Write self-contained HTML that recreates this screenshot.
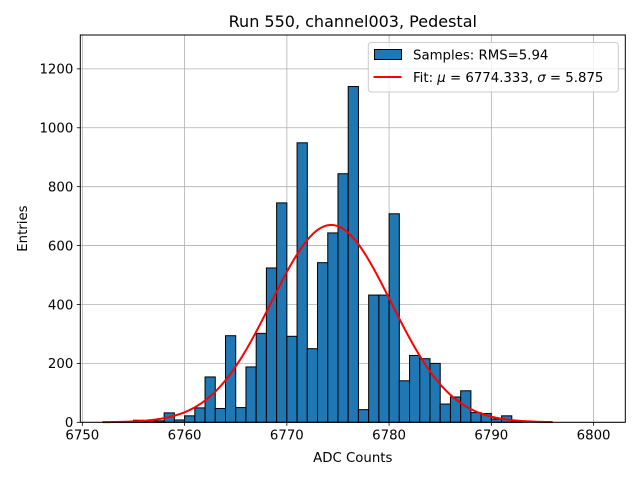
<!DOCTYPE html>
<html><head><meta charset="utf-8"><style>
body{margin:0;background:#fff}
svg text{font-family:"DejaVu Sans","Liberation Sans",sans-serif;fill:#000}
</style></head><body>
<svg id="chart" width="640" height="480" xmlns="http://www.w3.org/2000/svg">
<rect x="0" y="0" width="640" height="480" fill="#fff"/>
<g id="grid"></g><g id="bars"></g><g id="fit"></g><g id="axes"></g>
</svg>
<script>
const binStarts=[6752,6753,6754,6755,6756,6757,6758,6759,6760,6761,6762,6763,6764,6765,6766,6767,6768,6769,6770,6771,6772,6773,6774,6775,6776,6777,6778,6779,6780,6781,6782,6783,6784,6785,6786,6787,6788,6789,6790,6791,6792];
const counts=[1,1,2,7,2,5,32,8,22,49,154,47,294,50,188,302,524,745,292,949,250,542,643,844,1140,43,432,432,708,141,227,216,200,62,86,107,33,30,11,22,3];
const xTicks=[6750,6760,6770,6780,6790,6800];
const yTicks=[0,200,400,600,800,1000,1200];
const fitMu=6774.333, fitSigma=5.875, fitAmp=670, fitRange=[6752,6796];
const NS="http://www.w3.org/2000/svg";
const L=80.3,R=625.3,T=35,B=422.3,xmin=6749.8,xmax=6803.1,ymin=0,ymax=1315;
const sx=v=>L+(v-xmin)/(xmax-xmin)*(R-L);
const sy=v=>B-(v-ymin)/(ymax-ymin)*(B-T);
function mk(tag,attrs,parent){const e=document.createElementNS(NS,tag);for(const k in attrs)e.setAttribute(k,attrs[k]);parent.appendChild(e);return e;}
const grid=document.getElementById('grid'),bars=document.getElementById('bars'),fit=document.getElementById('fit'),axes=document.getElementById('axes');
xTicks.forEach(t=>{const l=mk('line',{x1:sx(t),x2:sx(t),y1:T,y2:B,stroke:'#b0b0b0','stroke-width':0.8},grid);

});
yTicks.forEach(t=>{const l=mk('line',{x1:L,x2:R,y1:sy(t),y2:sy(t),stroke:'#b0b0b0','stroke-width':0.8},grid);

});
binStarts.forEach((b,i)=>{const x0=sx(b),x1=sx(b+1),y=sy(counts[i]);
const r=mk('rect',{x:x0,y:y,width:x1-x0,height:sy(0)-y,fill:'#1f77b4',stroke:'#000','stroke-width':1},bars);

});
let d='';for(let i=0;i<=300;i++){const v=fitRange[0]+(fitRange[1]-fitRange[0])*i/300;const c=fitAmp*Math.exp(-0.5*((v-fitMu)/fitSigma)**2);d+=(i?'L':'M')+sx(v).toFixed(2)+','+sy(c).toFixed(2);}
const p=mk('path',{d:d,fill:'none',stroke:'#ff0000','stroke-width':2},fit);


const fr=mk('rect',{x:L,y:T,width:R-L,height:B-T,fill:'none',stroke:'#000','stroke-width':1},axes);


xTicks.forEach(t=>{mk('line',{x1:sx(t),x2:sx(t),y1:B,y2:B+3.5,stroke:'#000','stroke-width':0.8},axes);
const tx=mk('text',{x:sx(t),y:B+17,'text-anchor':'middle','font-size':'13.3'},axes);tx.textContent=t;

});
yTicks.forEach(t=>{mk('line',{x1:L-3.5,x2:L,y1:sy(t),y2:sy(t),stroke:'#000','stroke-width':0.8},axes);
const tx=mk('text',{x:L-7,y:sy(t)+4.8,'text-anchor':'end','font-size':'13.3'},axes);tx.textContent=t;

});
</script>
<svg width="640" height="480" style="position:absolute;left:0;top:0" xmlns="http://www.w3.org/2000/svg">
<text x="352.8" y="27" text-anchor="middle" font-size="16">Run 550, channel003, Pedestal</text>
<text x="352.8" y="462" text-anchor="middle" font-size="13.3">ADC Counts</text>
<text x="0" y="0" transform="translate(27,228.6) rotate(-90)" text-anchor="middle" font-size="13.3">Entries</text>
<g>
<rect x="368.3" y="42.5" width="250" height="49.5" rx="3" fill="#fff" fill-opacity="0.8" stroke="#cccccc" stroke-width="1"/>
<rect x="374.5" y="49.5" width="27" height="10" fill="#1f77b4" stroke="#000" stroke-width="1"/>
<text x="413" y="59.5" font-size="13.3">Samples: RMS=5.94</text>
<line x1="373.5" x2="401.5" y1="77" y2="77" stroke="#ff0000" stroke-width="2"/>
<text x="413" y="82" font-size="13.3">Fit: <tspan font-style="italic">μ</tspan> = 6774.333, <tspan font-style="italic">σ</tspan> = 5.875</text>
</g>
</svg>
</body></html>
